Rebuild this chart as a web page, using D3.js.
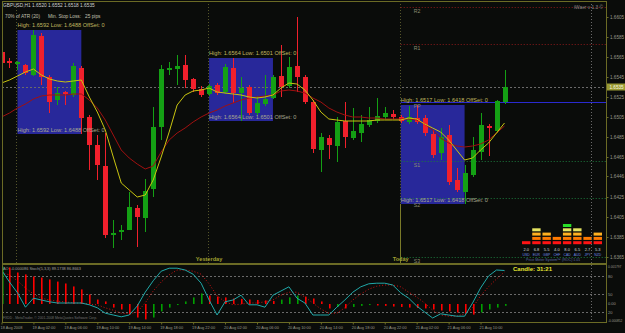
<!DOCTYPE html>
<html>
<head>
<meta charset="utf-8">
<script src="https://cdnjs.cloudflare.com/ajax/libs/d3/7.8.5/d3.min.js"></script>
<style>
    body { margin: 0; background: #0a0c0a; }
    svg { display: block; font-family: "Liberation Sans", Arial, sans-serif; }
</style>
</head>
<body>
<div id="chart"></div>
<script>
// GBPUSD H1 - first bar 18 Aug 2008 22:00, one bar per hour
var firstBar = "2008-08-18T22:00";

var open = [1.6570, 1.6561, 1.6558, 1.6557, 1.6547, 1.6586, 1.6545, 1.6522, 1.6530, 1.6527,
    1.6554, 1.6505, 1.6477, 1.6456, 1.6387, 1.6390, 1.6392, 1.6414, 1.6404, 1.6433,
    1.6495, 1.6552, 1.6553, 1.6557, 1.6543, 1.6533, 1.6528, 1.6537, 1.6530, 1.6554,
    1.6529, 1.6535, 1.6509, 1.6518, 1.6524, 1.6546, 1.6536, 1.6556, 1.6545, 1.6520,
    1.6472, 1.6484, 1.6476, 1.6501, 1.6484, 1.6489, 1.6497, 1.6501, 1.6505, 1.6508,
    1.6505, 1.6500, 1.6504, 1.6504, 1.6488, 1.6469, 1.6487, 1.6442, 1.6430, 1.6447,
    1.6470, 1.6496, 1.6491, 1.6520];
var high = [1.6572, 1.6564, 1.6561, 1.6558, 1.6592, 1.6589, 1.6547, 1.6535, 1.6531, 1.6559,
    1.6556, 1.6507, 1.6487, 1.6489, 1.6402, 1.6397, 1.6430, 1.6417, 1.6443, 1.6515,
    1.6557, 1.6560, 1.6567, 1.6567, 1.6544, 1.6536, 1.6538, 1.6539, 1.6558, 1.6564,
    1.6545, 1.6537, 1.6526, 1.6547, 1.6547, 1.6577, 1.6565, 1.6605, 1.6547, 1.6522,
    1.6489, 1.6487, 1.6505, 1.6520, 1.6514, 1.6507, 1.6515, 1.6524, 1.6515, 1.6512,
    1.6507, 1.6516, 1.6517, 1.6507, 1.6492, 1.6494, 1.6497, 1.6454, 1.6457, 1.6485,
    1.6509, 1.6498, 1.6522, 1.6552];
var low = [1.6556, 1.6554, 1.6552, 1.6547, 1.6546, 1.6537, 1.6509, 1.6517, 1.6517, 1.6525,
    1.6488, 1.6452, 1.6442, 1.6384, 1.6374, 1.6382, 1.6392, 1.6375, 1.6390, 1.6425,
    1.6482, 1.6547, 1.6537, 1.6534, 1.6530, 1.6525, 1.6526, 1.6527, 1.6528, 1.6519,
    1.6501, 1.6507, 1.6507, 1.6516, 1.6523, 1.6525, 1.6534, 1.6530, 1.6518, 1.6469,
    1.6450, 1.6463, 1.6460, 1.6474, 1.6482, 1.6480, 1.6495, 1.6499, 1.6503, 1.6503,
    1.6499, 1.6498, 1.6498, 1.6486, 1.6464, 1.6462, 1.6437, 1.6430, 1.6418, 1.6445,
    1.6462, 1.6466, 1.6489, 1.6518];
var close = [1.6559, 1.6559, 1.6560, 1.6549, 1.6587, 1.6545, 1.6520, 1.6529, 1.6528, 1.6556,
    1.6504, 1.6477, 1.6457, 1.6387, 1.6389, 1.6392, 1.6415, 1.6405, 1.6431, 1.6495,
    1.6553, 1.6554, 1.6556, 1.6542, 1.6533, 1.6527, 1.6536, 1.6529, 1.6555, 1.6529,
    1.6534, 1.6509, 1.6519, 1.6523, 1.6545, 1.6535, 1.6555, 1.6545, 1.6520, 1.6473,
    1.6485, 1.6477, 1.6500, 1.6485, 1.6491, 1.6498, 1.6502, 1.6506, 1.6509, 1.6505,
    1.6501, 1.6505, 1.6500, 1.6489, 1.6467, 1.6485, 1.6440, 1.6432, 1.6449, 1.6472,
    1.6497, 1.6494, 1.6521, 1.6535];

// moving averages (yellow fast, dark red slow)
var maFast = [1.6539, 1.6542, 1.6546, 1.6550, 1.6553, 1.6547, 1.6543, 1.6541, 1.6540, 1.6541,
    1.6542, 1.6525, 1.6510, 1.6492, 1.6465, 1.6439, 1.6432, 1.6425, 1.6427, 1.6442,
    1.6465, 1.6490, 1.6517, 1.6527, 1.6531, 1.6532, 1.6534, 1.6530, 1.6529, 1.6528,
    1.6527, 1.6525, 1.6524, 1.6525, 1.6527, 1.6534, 1.6539, 1.6538, 1.6532, 1.6522,
    1.6510, 1.6503, 1.6502, 1.6501, 1.6501, 1.6501, 1.6501, 1.6502, 1.6502, 1.6502,
    1.6502, 1.6504, 1.6503, 1.6498, 1.6494, 1.6490, 1.6482, 1.6472, 1.6462, 1.6464,
    1.6472, 1.6479, 1.6489, 1.6499];
var maSlow = [1.6505, 1.6509, 1.6514, 1.6518, 1.6523, 1.6526, 1.6527, 1.6527, 1.6527, 1.6528,
    1.6528, 1.6522, 1.6514, 1.6502, 1.6487, 1.6472, 1.6464, 1.6458, 1.6453, 1.6456,
    1.6470, 1.6482, 1.6489, 1.6494, 1.6500, 1.6505, 1.6509, 1.6512, 1.6516, 1.6519,
    1.6522, 1.6524, 1.6525, 1.6526, 1.6527, 1.6531, 1.6532, 1.6531, 1.6529, 1.6524,
    1.6520, 1.6514, 1.6510, 1.6507, 1.6505, 1.6505, 1.6504, 1.6504, 1.6503, 1.6503,
    1.6503, 1.6503, 1.6502, 1.6498, 1.6492, 1.6484, 1.6479, 1.6476, 1.6475, 1.6476,
    1.6478, 1.6482, 1.6489, 1.6496];

// lower window: Awesome Oscillator + Stochastic(5,3,3)
var ao = [0.00177, 0.00173, 0.00149, 0.00140, 0.00130, 0.00125, 0.00116, 0.00106, 0.00097, 0.00083,
    0.00069, 0.00045, 0.00021, 0.00012, -0.00017, -0.00026, -0.00050, -0.00064, -0.00073, -0.00064,
    -0.00035, -0.00017, -0.00005, 0.00012, 0.00031, 0.00050, 0.00040, 0.00035, 0.00031, 0.00026,
    0.00024, 0.00021, 0.00019, 0.00017, 0.00014, 0.00021, 0.00031, 0.00040, 0.00035, 0.00026,
    0.00012, -0.00021, -0.00014, -0.00021, -0.00014, -0.00009, -0.00005, -0.00007, -0.00009, -0.00012,
    -0.00014, -0.00017, -0.00019, -0.00021, -0.00026, -0.00031, -0.00035, -0.00040, -0.00045, -0.00050,
    -0.00040, -0.00026, -0.00017, -0.000086];
var stochMain = [90, 70, 52, 28, 43, 40, 37, 35, 35, 35,
    35, 32, 27, 18, 15, 12, 15, 30, 53, 72,
    88, 93, 93, 90, 83, 68, 40, 15, 37, 40,
    48, 32, 32, 28, 48, 55, 62, 43, 35, 15,
    15, 15, 28, 40, 53, 62, 67, 68, 68, 65,
    52, 43, 30, 20, 10, 17, 15, 13, 13, 35,
    60, 80, 90, 89.17];
var stochSignal = [85, 82, 72, 60, 50, 43, 40, 38, 37, 35,
    35, 33, 32, 27, 23, 18, 17, 20, 35, 55,
    70, 82, 90, 90, 88, 83, 67, 47, 37, 32,
    33, 35, 35, 37, 40, 48, 53, 53, 45, 35,
    25, 18, 18, 27, 40, 50, 58, 63, 65, 65,
    62, 53, 45, 35, 23, 15, 13, 13, 17, 27,
    47, 62, 75, 86.87];

// Asian session boxes
var boxStart = ["2008-08-19T00:00", "2008-08-20T00:00", "2008-08-21T00:00"];
var boxEnd = ["2008-08-19T08:00", "2008-08-20T08:00", "2008-08-21T08:00"];
var boxHigh = [1.6592, 1.6564, 1.6517];
var boxLow = [1.6488, 1.6501, 1.6418];

// daily pivots drawn for today
var pivotNames = ["R2", "R1", "PP", "S1", "S2", "S3"];
var pivotLevels = [1.6615, 1.6578, 1.6520, 1.6461, 1.6424, 1.6365];

var daySeparators = ["2008-08-19T00:00", "2008-08-20T00:00", "2008-08-21T00:00"];

var priceTicks = [1.6605, 1.6585, 1.6565, 1.6545, 1.6525, 1.6505, 1.6485, 1.6465, 1.6446, 1.6425, 1.6405, 1.6385, 1.6365];
var timeTicks = ["2008-08-18T22:00", "2008-08-19T02:00", "2008-08-19T06:00", "2008-08-19T10:00",
    "2008-08-19T14:00", "2008-08-19T18:00", "2008-08-19T22:00", "2008-08-20T02:00", "2008-08-20T06:00",
    "2008-08-20T10:00", "2008-08-20T14:00", "2008-08-20T18:00", "2008-08-20T22:00", "2008-08-21T02:00",
    "2008-08-21T06:00", "2008-08-21T10:00"];
var timeLabels = ["18 Aug 2008", "19 Aug 02:00", "19 Aug 06:00", "19 Aug 10:00", "19 Aug 14:00",
    "19 Aug 18:00", "19 Aug 22:00", "20 Aug 02:00", "20 Aug 06:00", "20 Aug 10:00", "20 Aug 14:00",
    "20 Aug 18:00", "20 Aug 22:00", "21 Aug 02:00", "21 Aug 06:00", "21 Aug 10:00"];
var stochLevels = [80, 50, 20];

// price meter
var currencies = ["USD", "EUR", "GBP", "CHF", "CAD", "AUD", "JPY", "NZD"];
var strength = [2.0, 6.8, 5.5, 4.0, 8.0, 6.5, 2.7, 5.3];
var strengthLevels = [1, 4, 3, 2, 5, 4, 2, 3];

var W = 625, H = 333;
var frame = "#6b6b25", axisText = "#9a9a8a";
var parse = d3.timeParse("%Y-%m-%dT%H:%M");
var times = open.map(function (d, i) { return d3.timeHour.offset(parse(firstBar), i); });

var x = d3.scaleTime().domain([times[0], times[times.length - 1]]).range([1.5, 504.5]);
var y = d3.scaleLinear().domain([1.6359, 1.6622]).range([263, 0]);
var aoY = d3.scaleLinear().domain([-0.000852, 0.001797]).range([322, 266]);
var stY = d3.scaleLinear().domain([0, 100]).range([324, 264]);

var svg = d3.select("#chart").append("svg")
    .attr("width", W).attr("height", H);
svg.append("rect").attr("width", W).attr("height", H).attr("fill", "#0a0c0a");

var defs = svg.append("defs");
defs.append("clipPath").attr("id", "mainClip")
    .append("rect").attr("x", 2).attr("y", 1).attr("width", 604).attr("height", 262);
defs.append("clipPath").attr("id", "subClip")
    .append("rect").attr("x", 2).attr("y", 265).attr("width", 604).attr("height", 57);

var main = svg.append("g").attr("clip-path", "url(#mainClip)");
var sub = svg.append("g").attr("clip-path", "url(#subClip)");

// session boxes
main.selectAll(".box").data(boxHigh).join("rect")
    .attr("x", function (d, i) { return x(parse(boxStart[i])); })
    .attr("width", function (d, i) { return x(parse(boxEnd[i])) - x(parse(boxStart[i])); })
    .attr("y", function (d) { return y(d); })
    .attr("height", function (d, i) { return y(boxLow[i]) - y(d); })
    .attr("fill", "#28289a");

// day separators
main.selectAll(".sep").data(daySeparators).join("line")
    .attr("x1", function (d) { return Math.round(x(parse(d))) - 0.5; })
    .attr("x2", function (d) { return Math.round(x(parse(d))) - 0.5; })
    .attr("y1", 1).attr("y2", 263)
    .attr("stroke", "#55552a").attr("stroke-dasharray", "1,2");
main.append("line")
    .attr("x1", Math.round(x(parse(daySeparators[2]))) - 0.5)
    .attr("x2", Math.round(x(parse(daySeparators[2]))) - 0.5)
    .attr("y1", y(boxLow[2])).attr("y2", 263)
    .attr("stroke", "#7a7a28");

// pivots
var pivotX = x(parse(daySeparators[2]));
main.selectAll(".pivot").data(pivotLevels).join("line")
    .attr("x1", pivotX).attr("x2", 606)
    .attr("y1", function (d) { return Math.round(y(d)) + 0.5; })
    .attr("y2", function (d) { return Math.round(y(d)) + 0.5; })
    .attr("stroke", function (d, i) { return i < 2 ? "#8b1a1a" : (i == 2 ? "#2a2ad0" : "#1c7a3c"); })
    .attr("stroke-dasharray", function (d, i) { return i == 2 ? null : "1,2"; });

// bid line and the right-side dotted marker
main.append("line")
    .attr("x1", 2).attr("x2", 606)
    .attr("y1", Math.round(y(close[close.length - 1])) + 0.5)
    .attr("y2", Math.round(y(close[close.length - 1])) + 0.5)
    .attr("stroke", "#6a6a6a").attr("stroke-dasharray", "2,2");
svg.append("line")
    .attr("x1", 591.5).attr("x2", 591.5).attr("y1", 1).attr("y2", 322)
    .attr("stroke", "#6a6a6a").attr("stroke-dasharray", "1,2");

// candles
var bars = open.map(function (o, i) {
    return { t: times[i], o: o, h: high[i], l: low[i], c: close[i] };
});
var bull = "#14a014", bear = "#f0202c";
main.selectAll(".wick").data(bars).join("line")
    .attr("x1", function (d) { return Math.round(x(d.t)) + 0.5; })
    .attr("x2", function (d) { return Math.round(x(d.t)) + 0.5; })
    .attr("y1", function (d) { return y(d.h); })
    .attr("y2", function (d) { return y(d.l); })
    .attr("stroke", function (d) { return d.c >= d.o ? bull : bear; });
main.selectAll(".body").data(bars).join("rect")
    .attr("x", function (d) { return Math.round(x(d.t)) - 2; })
    .attr("width", 5)
    .attr("y", function (d) { return y(Math.max(d.o, d.c)); })
    .attr("height", function (d) { return Math.max(1, Math.abs(y(d.o) - y(d.c))); })
    .attr("fill", function (d) { return d.c >= d.o ? bull : bear; });

// moving averages
var priceLine = function (arr) {
    return d3.line().x(function (d, i) { return x(times[i]); }).y(function (d) { return y(d); })(arr);
};
main.append("path").attr("d", priceLine(maSlow)).attr("fill", "none").attr("stroke", "#a01010");
main.append("path").attr("d", priceLine(maFast)).attr("fill", "none").attr("stroke", "#c8c410");

// box labels
var fmt4 = d3.format(".4f");
var boxText = function (i) {
    return "High: " + fmt4(boxHigh[i]) + "  Low: " + fmt4(boxLow[i]) + "  OffSet: 0";
};
main.selectAll(".boxTop").data(boxHigh).join("text")
    .attr("x", function (d, i) { return x(parse(boxStart[i])); })
    .attr("y", function (d) { return y(d) - 3; })
    .attr("font-size", 5.6).attr("fill", "#c0b860")
    .text(function (d, i) { return boxText(i); });
main.selectAll(".boxBottom").data(boxLow).join("text")
    .attr("x", function (d, i) { return x(parse(boxStart[i])); })
    .attr("y", function (d) { return y(d) - 2; })
    .attr("font-size", 5.6).attr("fill", "#a8a890")
    .text(function (d, i) { return boxText(i); });

// pivot labels (S2 sits just under its line, clear of the box caption)
main.selectAll(".pivotLabel").data(pivotLevels).join("text")
    .attr("x", pivotX + 13)
    .attr("y", function (d, i) { return y(d) + (i == 4 ? 9 : 6); })
    .attr("font-size", 5.2).attr("fill", "#8c8c72")
    .text(function (d, i) { return pivotNames[i]; });

// day labels
main.selectAll(".dayLabel").data(["Yesterday", "Today"]).join("text")
    .attr("x", function (d, i) { return x(parse(daySeparators[i + 1])); })
    .attr("y", 261).attr("text-anchor", "middle")
    .attr("font-size", 5.6).attr("font-weight", "bold").attr("fill", "#a0a030")
    .text(function (d) { return d; });

// header texts
svg.append("text").attr("x", 3).attr("y", 7).attr("font-size", 4.8).attr("fill", "#d0d0d0")
    .text("GBPUSD,H1  1.6520 1.6552 1.6518 1.6535");
svg.append("text").attr("x", 5).attr("y", 18).attr("font-size", 4.8).attr("fill", "#c0c0b0")
    .text("70% of ATR (20)");
svg.append("text").attr("x", 48).attr("y", 18).attr("font-size", 4.8).attr("fill", "#c0c0b0")
    .text("Min. Stop Loss:");
svg.append("text").attr("x", 85).attr("y", 18).attr("font-size", 4.8).attr("fill", "#c0c0b0")
    .text("25 pips");
svg.append("text").attr("x", 603).attr("y", 9).attr("text-anchor", "end")
    .attr("font-size", 4.8).attr("fill", "#8a8a8a").text("iWaer v 1.3 ©");

// price meter
var mx = d3.scaleBand().domain(currencies).range([522, 602]).paddingInner(0.18);
var my = d3.scaleLinear().domain([0, 5]).range([245.5, 224]);
var levelColors = ["#ff1414", "#ff7a00", "#ffb020", "#e4e460", "#28e028"];
var cells = [];
currencies.forEach(function (c, i) {
    d3.range(strengthLevels[i]).forEach(function (k) { cells.push({ c: c, k: k }); });
});
main.selectAll(".cell").data(cells).join("rect")
    .attr("x", function (d) { return mx(d.c); })
    .attr("width", mx.bandwidth())
    .attr("y", function (d) { return my(d.k + 1); })
    .attr("height", 3)
    .attr("fill", function (d) { return levelColors[d.k]; });
main.selectAll(".meterVal").data(strength).join("text")
    .attr("x", function (d, i) { return mx(currencies[i]) + mx.bandwidth() / 2; })
    .attr("y", 251).attr("text-anchor", "middle")
    .attr("font-size", 4).attr("fill", "#d8d8d8")
    .text(function (d) { return d3.format(".1f")(d); });
main.selectAll(".meterName").data(currencies).join("text")
    .attr("x", function (d) { return mx(d) + mx.bandwidth() / 2; })
    .attr("y", 256).attr("text-anchor", "middle")
    .attr("font-size", 3.4).attr("fill", "#6c88e0")
    .text(function (d) { return d; });
main.append("text").attr("x", 526).attr("y", 261)
    .attr("font-size", 3.6).attr("fill", "#5c6aa0")
    .text("Price Meter System™ (ROC) 1.01");

// lower window
sub.selectAll(".lvl").data(stochLevels).join("line")
    .attr("x1", 2).attr("x2", 606)
    .attr("y1", function (d) { return Math.round(stY(d)) + 0.5; })
    .attr("y2", function (d) { return Math.round(stY(d)) + 0.5; })
    .attr("stroke", "#6a6a6a").attr("stroke-dasharray", "2,2");
sub.selectAll(".ao").data(ao).join("rect")
    .attr("x", function (d, i) { return Math.round(x(times[i])); })
    .attr("width", 1.6)
    .attr("y", function (d) { return aoY(Math.max(d, 0)); })
    .attr("height", function (d) { return Math.abs(aoY(d) - aoY(0)); })
    .attr("fill", function (d, i) { return (i == 0 || d >= ao[i - 1]) ? "#00a000" : "#ff0000"; });
var stLine = d3.line().x(function (d, i) { return x(times[i]); }).y(function (d) { return stY(d); });
sub.append("path").attr("d", stLine(stochSignal)).attr("fill", "none")
    .attr("stroke", "#d01010").attr("stroke-dasharray", "1,2");
sub.append("path").attr("d", stLine(stochMain)).attr("fill", "none").attr("stroke", "#20a8a8");

svg.append("text").attr("x", 3).attr("y", 270).attr("font-size", 3.9).attr("fill", "#a0a0a0")
    .text("AO: -0.000086  Stoch(5,3,3) 89.1738 86.8663");
svg.append("text").attr("x", 3).attr("y", 319).attr("font-size", 3.4).attr("fill", "#707070")
    .text("FXDD - MetaTrader, © 2001-2008 MetaQuotes Software Corp.");
svg.append("text").attr("x", 513).attr("y", 271).attr("font-size", 6).attr("font-weight", "bold")
    .attr("fill", "#e6e632").text("Candle:  31:21");

// frames
svg.append("rect").attr("x", 2.5).attr("y", 1.5).attr("width", 604).attr("height", 262)
    .attr("fill", "none").attr("stroke", frame);
svg.append("rect").attr("x", 2.5).attr("y", 264.5).attr("width", 604).attr("height", 58)
    .attr("fill", "none").attr("stroke", frame);

// price axis
var yAxis = svg.append("g").attr("transform", "translate(606.5,0)")
    .call(d3.axisRight(y).tickValues(priceTicks).tickSize(2).tickFormat(fmt4));
yAxis.select(".domain").remove();
yAxis.selectAll("line").attr("stroke", frame);
yAxis.selectAll("text").attr("x", 3.5).attr("fill", axisText)
    .attr("font-size", 4.6).attr("font-family", "Liberation Sans, Arial, sans-serif");

// current price marker
var bidY = y(close[close.length - 1]);
svg.append("rect").attr("x", 607).attr("y", bidY - 3.5).attr("width", 18).attr("height", 7)
    .attr("fill", "#9a9a34");
svg.append("text").attr("x", 609.5).attr("y", bidY + 1.7).attr("font-size", 4.6)
    .attr("fill", "#fbfbe0").text(fmt4(close[close.length - 1]));

// lower window scale labels
var subLabels = [["0.001797", aoY(0.001797) + 2], ["80", stY(80) + 2], ["50", stY(50) + 2],
    ["0.00", aoY(0) + 1], ["20", stY(20) + 2], ["-0.000852", aoY(-0.000852)]];
svg.selectAll(".subLabel").data(subLabels).join("text")
    .attr("x", 608).attr("y", function (d) { return d[1]; })
    .attr("font-size", function (d) { return d[0].length > 5 ? 3.2 : 4; })
    .attr("fill", axisText)
    .text(function (d) { return d[0]; });

// time axis
var xAxis = svg.append("g").attr("transform", "translate(0,322.5)")
    .call(d3.axisBottom(x).tickValues(timeTicks.map(parse)).tickSize(2)
        .tickFormat(function (d, i) { return timeLabels[i]; }));
xAxis.select(".domain").remove();
xAxis.selectAll("line").attr("stroke", frame);
xAxis.selectAll("text").attr("text-anchor", "start").attr("dx", -1.5).attr("y", 4)
    .attr("fill", axisText).attr("font-size", 3.9)
    .attr("font-family", "Liberation Sans, Arial, sans-serif");
</script>
</body>
</html>
